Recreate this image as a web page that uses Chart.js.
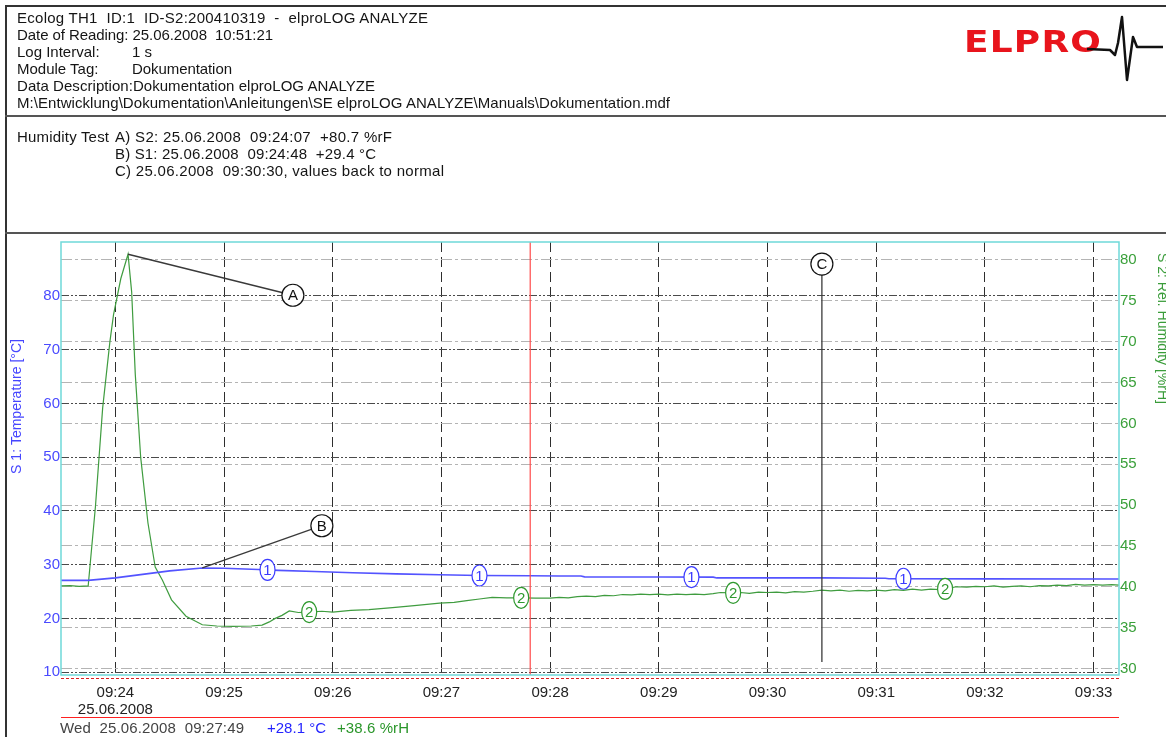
<!DOCTYPE html>
<html>
<head>
<meta charset="utf-8">
<script src="https://cdn.jsdelivr.net/npm/chart.js@4.4.1/dist/chart.umd.min.js"></script>
<style>
html, body { margin: 0; padding: 0; background: #fff; width: 1166px; height: 737px; overflow: hidden; }
#wrap { position: relative; width: 1166px; height: 737px; font-family: "Liberation Sans", Arial, sans-serif; font-size: 15px; color: #151515; }
#c { position: absolute; left: 0; top: 0; }
.t { position: absolute; white-space: pre; line-height: 18px; }
.rule { position: absolute; background: #555; }
#logo { position: absolute; left: 964px; top: 22px; color: #e8141c; font-family: "DejaVu Sans", sans-serif; font-weight: bold; font-size: 30px; line-height: 40px; transform-origin: 0 50%; letter-spacing: 1px; }
#beat { position: absolute; left: 1080px; top: 10px; }
</style>
</head>
<body>
<div id="wrap">
  <canvas id="c" width="1166" height="737"></canvas>

  <div class="rule" style="left:5px;top:5px;width:1161px;height:2px;background:#333"></div>
  <div class="rule" style="left:5px;top:5px;width:2px;height:732px;background:#333"></div>
  <div class="rule" style="left:5px;top:115px;width:1161px;height:2px;"></div>
  <div class="rule" style="left:5px;top:232px;width:1161px;height:2px;"></div>

  <div id="header"></div>
  <div id="logo">ELPRO</div>
  <svg id="beat" width="86" height="80" viewBox="1080 10 86 80">
    <polyline points="1087,49 1110,50 1115,55 1118,43 1122,17 1127,80 1133,37 1137,47 1163,47"
              fill="none" stroke="#111" stroke-width="2.5" stroke-linejoin="round"/>
  </svg>
  <div id="footer"></div>
</div>

<script>
// ---- data ----
const deviceInfo = 'Ecolog TH1  ID:1  ID-S2:200410319  -  elproLOG ANALYZE';
const readingDate = '25.06.2008';
const readingTime = '10:51:21';
const logInterval = '1 s';
const moduleTag = 'Dokumentation';
const dataDescription = 'Dokumentation elproLOG ANALYZE';
const filePath = 'M:\\Entwicklung\\Dokumentation\\Anleitungen\\SE elproLOG ANALYZE\\Manuals\\Dokumentation.mdf';
const commentTitle = 'Humidity Test';
const commentLines = [
  'A) S2: 25.06.2008  09:24:07  +80.7 %rF',
  'B) S1: 25.06.2008  09:24:48  +29.4 °C',
  'C) 25.06.2008  09:30:30, values back to normal'
];

const xRange = ['09:23:30', '09:33:14'];
const xTickLabels = ['09:24', '09:25', '09:26', '09:27', '09:28', '09:29', '09:30', '09:31', '09:32', '09:33'];
const dateLabel = '25.06.2008';
const tempTicks = [10, 20, 30, 40, 50, 60, 70, 80];
const humTicks = [30, 35, 40, 45, 50, 55, 60, 65, 70, 75, 80];
const tempRange = [9.5, 90.0];
const humRange = [29.2, 82.2];

// S1: temperature [°C]
const tempTimes = ['09:23:30', '09:23:45', '09:24:00', '09:24:15', '09:24:30', '09:24:48', '09:25:00',
  '09:25:19', '09:25:30', '09:25:50', '09:26:11', '09:26:35', '09:26:59', '09:27:21', '09:27:49',
  '09:28:05', '09:28:17', '09:28:19', '09:29:00', '09:29:30', '09:29:32', '09:30:30', '09:31:05',
  '09:31:07', '09:32:00', '09:33:14'];
const tempValues = [27.1, 27.1, 27.55, 28.2, 28.85, 29.4, 29.35,
  29.1, 28.95, 28.75, 28.5, 28.3, 28.15, 28.0, 27.95,
  27.9, 27.9, 27.75, 27.72, 27.7, 27.55, 27.55, 27.5,
  27.4, 27.38, 27.35];

// S2: relative humidity [%rH]
const humTimes = ['09:23:30', '09:23:35', '09:23:40', '09:23:45', '09:23:49', '09:23:53', '09:23:57',
  '09:23:59', '09:24:03', '09:24:07', '09:24:09', '09:24:11', '09:24:14', '09:24:18', '09:24:22',
  '09:24:26', '09:24:31', '09:24:39', '09:24:48', '09:24:56', '09:25:05', '09:25:15', '09:25:21',
  '09:25:25', '09:25:28', '09:25:32', '09:25:36', '09:25:41', '09:25:47', '09:25:54', '09:26:00',
  '09:26:10', '09:26:20', '09:26:33', '09:26:45', '09:26:59', '09:27:07', '09:27:14', '09:27:21',
  '09:27:28', '09:27:36', '09:27:44', '09:27:52', '09:28:00', '09:28:05', '09:28:10', '09:28:15',
  '09:28:20', '09:28:25', '09:28:30', '09:28:35', '09:28:40', '09:28:45', '09:28:50', '09:28:55',
  '09:29:00', '09:29:05', '09:29:10', '09:29:15', '09:29:20', '09:29:25', '09:29:30', '09:29:34',
  '09:29:40', '09:29:45', '09:29:50', '09:29:55', '09:30:00', '09:30:05', '09:30:10', '09:30:15',
  '09:30:20', '09:30:25', '09:30:30', '09:30:35', '09:30:40', '09:30:45', '09:30:50', '09:30:55',
  '09:31:00', '09:31:05', '09:31:10', '09:31:15', '09:31:20', '09:31:25', '09:31:30', '09:31:35',
  '09:31:40', '09:31:44', '09:31:50', '09:31:55', '09:32:00', '09:32:05', '09:32:10', '09:32:15',
  '09:32:20', '09:32:25', '09:32:30', '09:32:35', '09:32:40', '09:32:45', '09:32:50', '09:32:55',
  '09:33:00', '09:33:05', '09:33:10', '09:33:14'];
const humValues = [40.1, 40.15, 40.05, 40.1, 49.8, 61.9, 70.0,
  73.3, 77.7, 80.7, 76.1, 66.0, 55.8, 47.8, 42.4,
  40.8, 38.4, 36.4, 35.35, 35.2, 35.15, 35.2, 35.3,
  35.7, 36.1, 36.5, 37.05, 36.85, 36.9, 37.0, 36.9,
  37.1, 37.2, 37.45, 37.7, 38.0, 38.1, 38.3, 38.5,
  38.7, 38.65, 38.65, 38.6, 38.6, 38.7, 38.65, 38.8,
  38.85, 38.8, 38.95, 38.9, 39.05, 39.0, 39.1, 39.05,
  39.1, 39.0, 39.1, 39.05, 39.1, 39.05, 39.15, 39.3,
  39.25, 39.3, 39.2, 39.35, 39.3, 39.35, 39.25, 39.4,
  39.35, 39.45, 39.6, 39.5, 39.6, 39.45, 39.55, 39.5,
  39.6, 39.5, 39.65, 39.55, 39.7, 39.6, 39.7, 39.65,
  39.8, 40.0, 39.95, 40.05, 40.0, 40.1, 39.95, 40.05,
  40.1, 40.0, 40.15, 40.1, 40.2, 40.15, 40.3, 40.2,
  40.25, 40.2, 40.25, 40.2];

// channel markers drawn on the curves
const tempMarkerTimes = ['09:25:24', '09:27:21', '09:29:18', '09:31:15'];
const humMarkerTimes = ['09:25:47', '09:27:44', '09:29:41', '09:31:38'];

// annotations A, B, C
const noteLabels = ['A', 'B', 'C'];
const noteTimes = ['09:24:07', '09:24:48', '09:30:30'];
const noteValues = [80.7, 29.4, 11.9];
const noteAxes = ['y1', 'y', 'y'];
const noteBubbleTimes = ['09:25:38', '09:25:54', '09:30:30'];
const noteBubbleValues = [80.1, 37.25, 85.9];

// cursor readout
const cursorDay = 'Wed';
const cursorTime = '09:27:49';
const cursorTemp = 28.1;
const cursorHum = 38.6;

// ---- helpers ----
const FONT = '"Liberation Sans", Arial, sans-serif';
const BLUE = '#5353ff';
const GREEN = '#3f9c3f';

function toSec(s) {
  const p = s.split(':').map(Number);
  return p[0] * 3600 + p[1] * 60 + (p[2] || 0);
}

function valueAt(times, values, t) {
  for (let i = 1; i < times.length; i++) {
    const t0 = toSec(times[i - 1]), t1 = toSec(times[i]);
    if (t <= t1) return values[i - 1] + (values[i] - values[i - 1]) * (t - t0) / (t1 - t0);
  }
  return values[values.length - 1];
}

function addText(parent, txt, x, cy, w, color) {
  const el = document.createElement('div');
  el.className = 't';
  el.textContent = txt;
  el.style.left = x + 'px';
  el.style.top = (cy - 9) + 'px';
  if (color) el.style.color = color;
  parent.appendChild(el);
  // stretch to the width seen in the reference
  const natural = el.getBoundingClientRect().width;
  if (w && txt.length > 1) el.style.letterSpacing = ((w - natural) / (txt.length - 1)) + 'px';
  return el;
}

// ---- header ----
const header = document.getElementById('header');
addText(header, deviceInfo, 17, 18, 411);
addText(header, 'Date of Reading: ' + readingDate + '  ' + readingTime, 17, 35, 256);
addText(header, 'Log Interval:', 17, 52, 0);
addText(header, logInterval, 132, 52, 0);
addText(header, 'Module Tag:', 17, 69, 0);
addText(header, moduleTag, 132, 69, 100);
addText(header, 'Data Description:' + dataDescription, 17, 86, 358);
addText(header, filePath, 17, 103, 653);
addText(header, commentTitle, 17, 137, 92);
addText(header, commentLines[0], 115, 137, 277);
addText(header, commentLines[1], 115, 154, 261);
addText(header, commentLines[2], 115, 171, 329);

const logo = document.getElementById('logo');
logo.style.transform = 'scaleX(' + (138 / logo.getBoundingClientRect().width) + ')';

// ---- footer readout ----
const footer = document.getElementById('footer');
addText(footer, cursorDay + '  ' + dateLabel + '  ' + cursorTime, 60, 728, 184, '#444');
addText(footer, '+' + cursorTemp.toFixed(1) + ' °C', 267, 728, 59, '#2424ff');
addText(footer, '+' + cursorHum.toFixed(1) + ' %rH', 337, 728, 72, '#2a962a');

// ---- chart ----
function strokeLine(ctx, x1, y1, x2, y2, color, width, dash) {
  ctx.save();
  ctx.strokeStyle = color;
  ctx.lineWidth = width;
  ctx.setLineDash(dash || []);
  ctx.beginPath();
  ctx.moveTo(x1, y1);
  ctx.lineTo(x2, y2);
  ctx.stroke();
  ctx.restore();
}

function badge(ctx, x, y, rx, ry, text, color) {
  ctx.save();
  ctx.beginPath();
  ctx.ellipse(x, y, rx, ry, 0, 0, Math.PI * 2);
  ctx.fillStyle = '#fff';
  ctx.fill();
  ctx.lineWidth = 1.2;
  ctx.strokeStyle = color;
  ctx.stroke();
  ctx.fillStyle = color;
  ctx.font = '15px ' + FONT;
  ctx.textAlign = 'center';
  ctx.textBaseline = 'middle';
  ctx.fillText(text, x, y + 1);
  ctx.restore();
}

const decor = {
  id: 'decor',
  afterDatasetsDraw(chart) {
    const { ctx, chartArea: a, scales } = chart;
    const xs = scales.x;

    // cursor line
    const cx = xs.getPixelForValue(toSec(cursorTime));
    strokeLine(ctx, cx, a.top, cx, a.bottom, '#ff4a4a', 1.2);

    // annotation leader lines
    noteLabels.forEach((lab, i) => {
      const px = xs.getPixelForValue(toSec(noteTimes[i]));
      const py = scales[noteAxes[i]].getPixelForValue(noteValues[i]);
      const bx = xs.getPixelForValue(toSec(noteBubbleTimes[i]));
      const by = scales.y.getPixelForValue(noteBubbleValues[i]);
      strokeLine(ctx, px, py, bx, by, '#3a3a3a', 1.3);
    });

    // channel markers
    tempMarkerTimes.forEach(t => {
      const s = toSec(t);
      badge(ctx, xs.getPixelForValue(s), scales.y.getPixelForValue(valueAt(tempTimes, tempValues, s)), 7.5, 10.5, '1', '#3b3bff');
    });
    humMarkerTimes.forEach(t => {
      const s = toSec(t);
      badge(ctx, xs.getPixelForValue(s), scales.y1.getPixelForValue(valueAt(humTimes, humValues, s)), 7.5, 10.5, '2', '#2f992f');
    });

    // annotation bubbles
    noteLabels.forEach((lab, i) => {
      const bx = xs.getPixelForValue(toSec(noteBubbleTimes[i]));
      const by = scales.y.getPixelForValue(noteBubbleValues[i]);
      badge(ctx, bx, by, 11, 11, lab, '#111');
    });
  },
  afterDraw(chart) {
    const { ctx, chartArea: a } = chart;
    ctx.save();
    // plot frame
    ctx.strokeStyle = '#6fd9d9';
    ctx.lineWidth = 1.5;
    ctx.strokeRect(a.left, a.top, a.right - a.left, a.bottom - a.top);
    ctx.restore();

    strokeLine(ctx, a.left, a.bottom + 3.5, a.right, a.bottom + 3.5, '#d42020', 1, [3, 2]);
    strokeLine(ctx, a.left, 717.5, a.right, 717.5, '#ff2020', 1.2);

    // axis titles
    ctx.save();
    ctx.font = '14px ' + FONT;
    ctx.textBaseline = 'middle';
    ctx.translate(17, 406.5);
    ctx.rotate(-Math.PI / 2);
    ctx.textAlign = 'center';
    ctx.fillStyle = '#4646ff';
    ctx.fillText('S 1: Temperature [°C]', 0, 0);
    ctx.restore();

    ctx.save();
    ctx.font = '14px ' + FONT;
    ctx.textBaseline = 'middle';
    ctx.translate(1162, 253);
    ctx.rotate(Math.PI / 2);
    ctx.textAlign = 'left';
    ctx.fillStyle = '#3a9c3a';
    ctx.fillText('S 2: Rel. Humidity [%rH]', 0, 0);
    ctx.restore();
  }
};

Chart.defaults.font.family = FONT;

new Chart(document.getElementById('c'), {
  type: 'line',
  data: {
    datasets: [{
      label: 'S1 Temperature',
      data: tempTimes.map((t, i) => ({ x: toSec(t), y: tempValues[i] })),
      yAxisID: 'y',
      borderColor: BLUE,
      borderWidth: 1.6,
      pointRadius: 0,
      tension: 0
    }, {
      label: 'S2 Rel. Humidity',
      data: humTimes.map((t, i) => ({ x: toSec(t), y: humValues[i] })),
      yAxisID: 'y1',
      borderColor: GREEN,
      borderWidth: 1.2,
      pointRadius: 0,
      tension: 0
    }]
  },
  options: {
    responsive: false,
    animation: false,
    events: [],
    layout: { padding: { top: 242, left: 0, right: 0, bottom: 0 } },
    plugins: { legend: { display: false }, tooltip: { enabled: false } },
    scales: {
      x: {
        type: 'linear',
        min: toSec(xRange[0]),
        max: toSec(xRange[1]),
        afterFit: s => { s.height = 62; },
        afterBuildTicks: s => { s.ticks = xTickLabels.map(l => ({ value: toSec(l + ':00') })); },
        ticks: {
          autoSkip: false,
          maxRotation: 0,
          padding: 10,
          color: '#222',
          font: { size: 15, lineHeight: 1.1 },
          callback: (v, i) => i === 0 ? [xTickLabels[i], dateLabel] : xTickLabels[i]
        },
        grid: { color: '#2e2e2e', lineWidth: 1, drawTicks: false },
        border: { display: false, dash: [10, 5] }
      },
      y: {
        position: 'left',
        min: tempRange[0],
        max: tempRange[1],
        afterFit: s => { s.width = 61; },
        afterBuildTicks: s => { s.ticks = tempTicks.map(v => ({ value: v })); },
        ticks: { padding: 1, color: '#4a4aff', font: { size: 15 } },
        grid: { color: '#4a4a4a', lineWidth: 1, drawTicks: false },
        border: { display: false, dash: [8, 2, 2, 2, 2, 2] }
      },
      y1: {
        position: 'right',
        min: humRange[0],
        max: humRange[1],
        afterFit: s => { s.width = 47; },
        afterBuildTicks: s => { s.ticks = humTicks.map(v => ({ value: v })); },
        ticks: { padding: 1, color: '#3aa03a', font: { size: 15 } },
        grid: { color: '#b4b4b4', lineWidth: 1, drawTicks: false },
        border: { display: false, dash: [11, 3, 3, 3] }
      }
    }
  },
  plugins: [decor]
});
</script>
</body>
</html>
